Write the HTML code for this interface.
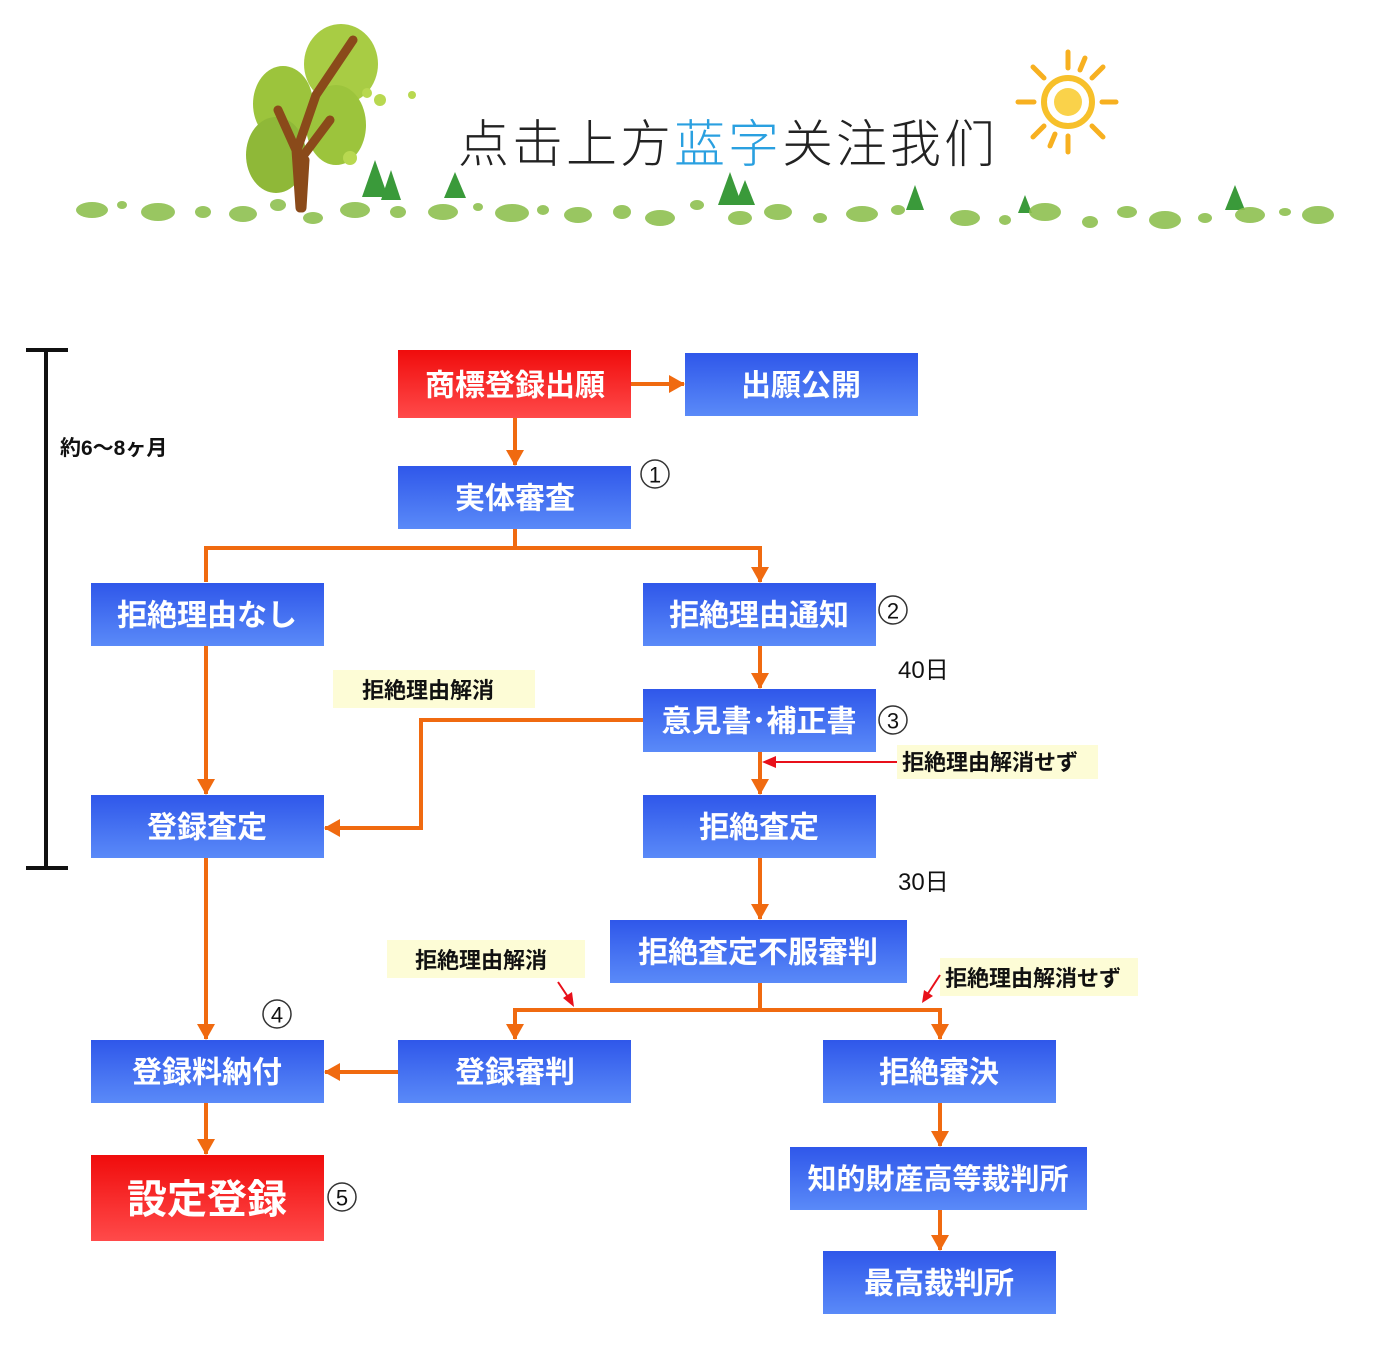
<!DOCTYPE html>
<html><head><meta charset="utf-8"><style>
html,body{margin:0;padding:0;background:#fff;}
svg{display:block}
text{font-family:"Liberation Sans","Noto Sans CJK JP",sans-serif;}
.bt{fill:#fff;font-weight:bold;font-size:30px;text-anchor:middle;dominant-baseline:central;}
.lb{fill:#111;font-weight:bold;font-size:22px;}
.cn{fill:#111;font-size:22px;text-anchor:middle;dominant-baseline:central;}
</style></head><body>
<svg width="1397" height="1347" viewBox="0 0 1397 1347" xmlns="http://www.w3.org/2000/svg">
<defs>
<linearGradient id="bl" x1="0" y1="0" x2="0" y2="1"><stop offset="0" stop-color="#2f57ea"/><stop offset="1" stop-color="#5a8af8"/></linearGradient>
<linearGradient id="rd" x1="0" y1="0" x2="0" y2="1"><stop offset="0" stop-color="#f00c0c"/><stop offset="1" stop-color="#ff4a4a"/></linearGradient>
<marker id="ao" markerWidth="18" markerHeight="18" refX="15" refY="9" orient="auto" markerUnits="userSpaceOnUse" viewBox="0 0 18 18"><path d="M0,0 L16,9 L0,18 z" fill="#f06a10"/></marker>
</defs>

<g>
<ellipse cx="341" cy="64" rx="37" ry="40" fill="#a8cc44"/>
<ellipse cx="283" cy="104" rx="30" ry="38" fill="#9cc43c"/>
<ellipse cx="276" cy="155" rx="30" ry="38" fill="#8fb838"/>
<ellipse cx="336" cy="125" rx="30" ry="40" fill="#9cc43c"/>
<path d="M300,208 L296,150 L278,110 M297,150 L316,95 L353,40 M300,160 L330,120 M302,208 L305,160" stroke="#8a4a1a" stroke-width="9" fill="none" stroke-linecap="round"/>
<circle cx="367" cy="93" r="5" fill="#b8d850"/><circle cx="380" cy="100" r="6" fill="#b8d850"/><circle cx="412" cy="95" r="4" fill="#b8d850"/><circle cx="350" cy="158" r="7" fill="#b8d850"/>
<g fill="#3a9a3a">
<polygon points="375,160 362,197 388,197"/><polygon points="391,170 381,200 401,200"/><polygon points="455,172 444,198 466,198"/>
<polygon points="730,172 718,205 742,205"/><polygon points="745,180 735,205 755,205"/><polygon points="915,185 906,210 924,210"/><polygon points="1025,195 1018,213 1032,213"/><polygon points="1235,185 1225,210 1245,210"/>
</g>
<g fill="#8fc050" opacity="0.9">
<ellipse cx="92" cy="210" rx="16" ry="8"/><ellipse cx="122" cy="205" rx="5" ry="4"/><ellipse cx="158" cy="212" rx="17" ry="9"/><ellipse cx="203" cy="212" rx="8" ry="6"/><ellipse cx="243" cy="214" rx="14" ry="8"/><ellipse cx="278" cy="205" rx="8" ry="6"/><ellipse cx="313" cy="218" rx="10" ry="6"/><ellipse cx="355" cy="210" rx="15" ry="8"/><ellipse cx="398" cy="212" rx="8" ry="6"/><ellipse cx="443" cy="212" rx="15" ry="8"/><ellipse cx="478" cy="207" rx="5" ry="4"/><ellipse cx="512" cy="213" rx="17" ry="9"/><ellipse cx="543" cy="210" rx="6" ry="5"/><ellipse cx="578" cy="215" rx="14" ry="8"/><ellipse cx="622" cy="212" rx="9" ry="7"/><ellipse cx="660" cy="218" rx="15" ry="8"/><ellipse cx="697" cy="205" rx="7" ry="5"/><ellipse cx="740" cy="218" rx="12" ry="7"/><ellipse cx="778" cy="212" rx="14" ry="8"/><ellipse cx="820" cy="218" rx="7" ry="5"/><ellipse cx="862" cy="214" rx="16" ry="8"/><ellipse cx="898" cy="210" rx="7" ry="5"/><ellipse cx="965" cy="218" rx="15" ry="8"/><ellipse cx="1005" cy="220" rx="6" ry="5"/><ellipse cx="1045" cy="212" rx="16" ry="9"/><ellipse cx="1090" cy="222" rx="8" ry="6"/><ellipse cx="1127" cy="212" rx="10" ry="6"/><ellipse cx="1165" cy="220" rx="16" ry="9"/><ellipse cx="1205" cy="218" rx="7" ry="5"/><ellipse cx="1250" cy="215" rx="15" ry="8"/><ellipse cx="1285" cy="212" rx="6" ry="4"/><ellipse cx="1318" cy="215" rx="16" ry="9"/>
</g>
<circle cx="1068" cy="102" r="24" fill="none" stroke="#f7c02a" stroke-width="6"/>
<circle cx="1068" cy="102" r="14" fill="#fad24a"/>
<g stroke="#f7b020" stroke-width="5" stroke-linecap="round">
<line x1="1068" y1="52" x2="1068" y2="68"/><line x1="1068" y1="136" x2="1068" y2="152"/><line x1="1018" y1="102" x2="1034" y2="102"/><line x1="1102" y1="102" x2="1116" y2="102"/>
<line x1="1033" y1="67" x2="1044" y2="78"/><line x1="1092" y1="126" x2="1103" y2="137"/><line x1="1103" y1="67" x2="1092" y2="78"/><line x1="1044" y1="126" x2="1033" y2="137"/>
<line x1="1085" y1="58" x2="1080" y2="70"/><line x1="1050" y1="146" x2="1055" y2="134"/>
</g>
<text x="458" y="162" font-size="51" letter-spacing="3" fill="#222" style="font-family:'Liberation Sans','Noto Sans CJK SC',sans-serif;font-weight:300">点击上方<tspan fill="#2aa0e0">蓝字</tspan>关注我们</text>
</g>

<g stroke="#111" stroke-width="4">
<line x1="46" y1="350" x2="46" y2="868"/><line x1="26" y1="350" x2="68" y2="350"/><line x1="26" y1="868" x2="68" y2="868"/>
</g>
<text x="60" y="455" class="lb" style="font-size:21px">約6～8ヶ月</text>

<g fill="#fdfcd6">
<rect x="333" y="670" width="202" height="38"/><rect x="897" y="745" width="201" height="34"/><rect x="387" y="940" width="198" height="38"/><rect x="940" y="958" width="198" height="38"/>
</g>
<text x="362" y="698" class="lb">拒絶理由解消</text>
<text x="902" y="770" class="lb">拒絶理由解消せず</text>
<text x="415" y="968" class="lb">拒絶理由解消</text>
<text x="945" y="986" class="lb">拒絶理由解消せず</text>
<text x="898" y="678" class="lb" style="font-size:24px;font-weight:normal">40日</text>
<text x="898" y="890" class="lb" style="font-size:24px;font-weight:normal">30日</text>

<g stroke="#f06a10" stroke-width="4" fill="none" marker-end="url(#ao)">
<line x1="631" y1="384" x2="684" y2="384"/>
<line x1="515" y1="418" x2="515" y2="465"/>
<polyline points="515,529 515,548 206,548 206,582" marker-end="none"/>
<polyline points="515,548 760,548 760,582"/>
<line x1="206" y1="646" x2="206" y2="794"/>
<line x1="760" y1="646" x2="760" y2="688"/>
<polyline points="643,720 421,720 421,828 325,828"/>
<line x1="760" y1="752" x2="760" y2="794"/>
<line x1="760" y1="858" x2="760" y2="919"/>
<line x1="206" y1="858" x2="206" y2="1039"/>
<polyline points="760,983 760,1010 515,1010 515,1039"/>
<polyline points="760,1010 940,1010 940,1039"/>
<line x1="398" y1="1072" x2="325" y2="1072"/>
<line x1="206" y1="1103" x2="206" y2="1154"/>
<line x1="940" y1="1103" x2="940" y2="1146"/>
<line x1="940" y1="1210" x2="940" y2="1250"/>
</g>
<g stroke="#e8101a" stroke-width="2" fill="#e8101a">
<line x1="897" y1="762" x2="770" y2="762"/><polygon points="762,762 776,756 776,768" stroke="none"/>
<line x1="558" y1="982" x2="570" y2="1000"/><polygon points="574,1007 563,998 572,992" stroke="none"/>
<line x1="940" y1="975" x2="927" y2="995"/><polygon points="922,1003 924,990 933,996" stroke="none"/>
</g>

<g>
<rect x="398" y="350" width="233" height="68" fill="url(#rd)"/><text x="515" y="386" class="bt">商標登録出願</text>
<rect x="685" y="353" width="233" height="63" fill="url(#bl)"/><text x="801" y="386" class="bt">出願公開</text>
<rect x="398" y="466" width="233" height="63" fill="url(#bl)"/><text x="515" y="499" class="bt">実体審査</text>
<rect x="91" y="583" width="233" height="63" fill="url(#bl)"/><text x="207" y="616" class="bt">拒絶理由なし</text>
<rect x="643" y="583" width="233" height="63" fill="url(#bl)"/><text x="759" y="616" class="bt">拒絶理由通知</text>
<rect x="643" y="689" width="233" height="63" fill="url(#bl)"/><text x="759" y="722" class="bt">意見書･補正書</text>
<rect x="91" y="795" width="233" height="63" fill="url(#bl)"/><text x="207" y="828" class="bt">登録査定</text>
<rect x="643" y="795" width="233" height="63" fill="url(#bl)"/><text x="759" y="828" class="bt">拒絶査定</text>
<rect x="610" y="920" width="297" height="63" fill="url(#bl)"/><text x="758" y="953" class="bt">拒絶査定不服審判</text>
<rect x="91" y="1040" width="233" height="63" fill="url(#bl)"/><text x="207" y="1073" class="bt">登録料納付</text>
<rect x="398" y="1040" width="233" height="63" fill="url(#bl)"/><text x="515" y="1073" class="bt">登録審判</text>
<rect x="823" y="1040" width="233" height="63" fill="url(#bl)"/><text x="939" y="1073" class="bt">拒絶審決</text>
<rect x="91" y="1155" width="233" height="86" fill="url(#rd)"/><text x="207" y="1200" class="bt" style="font-size:40px">設定登録</text>
<rect x="790" y="1147" width="297" height="63" fill="url(#bl)"/><text x="938" y="1180" class="bt" style="font-size:29px">知的財産高等裁判所</text>
<rect x="823" y="1251" width="233" height="63" fill="url(#bl)"/><text x="939" y="1284" class="bt">最高裁判所</text>
</g>

<g fill="#fff" stroke="#333" stroke-width="1.5">
<circle cx="655" cy="474" r="14"/><circle cx="893" cy="610" r="14"/><circle cx="893" cy="720" r="14"/><circle cx="277" cy="1014" r="14"/><circle cx="342" cy="1197" r="14"/>
</g>
<text x="655" y="475" class="cn">1</text><text x="893" y="611" class="cn">2</text><text x="893" y="721" class="cn">3</text><text x="277" y="1015" class="cn">4</text><text x="342" y="1198" class="cn">5</text>
</svg>
</body></html>
